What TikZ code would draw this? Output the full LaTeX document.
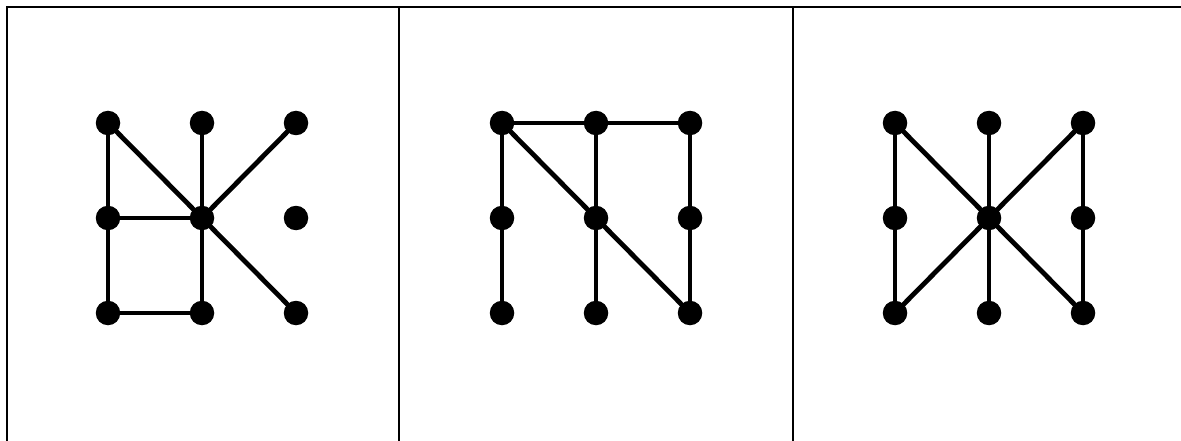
\documentclass[tikz,border=0pt]{standalone}
\begin{document}
\begin{tikzpicture}[x=1pt,y=-1pt,
  dot/.style={circle,fill=black,inner sep=0pt,minimum size=24.5pt},
  edge/.style={line width=4.8pt,line cap=butt},
  frame/.style={line width=2pt}]
\useasboundingbox (0,0) rectangle (1181,441);
% table frame
\draw[frame] (1181,7) -- (7,7) -- (7,441);
\draw[frame] (399,7) -- (399,441);
\draw[frame] (793,7) -- (793,441);
% panel 1
\foreach \c/\x in {L/108,M/202,R/296}{
  \foreach \r/\y in {T/123,M/218,B/313}{
    \coordinate (a\r\c) at (\x,\y);
  }
}
\draw[edge] (aTL) -- (aML) -- (aBL) -- (aBM) -- (aMM) -- (aTM);
\draw[edge] (aML) -- (aMM);
\draw[edge] (aTL) -- (aMM) -- (aBR);
\draw[edge] (aMM) -- (aTR);
\foreach \n in {aTL,aTM,aTR,aML,aMM,aMR,aBL,aBM,aBR}{\node[dot] (d\n) at (\n) {};}
% panel 2
\foreach \c/\x in {L/502,M/596,R/690}{
  \foreach \r/\y in {T/123,M/218,B/313}{
    \coordinate (b\r\c) at (\x,\y);
  }
}
\draw[edge] (bTL) -- (bTM) -- (bTR);
\draw[edge] (bTL) -- (bML) -- (bBL);
\draw[edge] (bTM) -- (bMM) -- (bBM);
\draw[edge] (bTR) -- (bMR) -- (bBR);
\draw[edge] (bTL) -- (bMM) -- (bBR);
\foreach \n in {bTL,bTM,bTR,bML,bMM,bMR,bBL,bBM,bBR}{\node[dot] (d\n) at (\n) {};}
% panel 3
\foreach \c/\x in {L/895,M/989,R/1083}{
  \foreach \r/\y in {T/123,M/218,B/313}{
    \coordinate (c\r\c) at (\x,\y);
  }
}
\draw[edge] (cTL) -- (cML) -- (cBL);
\draw[edge] (cTL) -- (cMM) -- (cBR);
\draw[edge] (cBL) -- (cMM) -- (cTR);
\draw[edge] (cTM) -- (cMM) -- (cBM);
\draw[edge] (cTR) -- (cMR) -- (cBR);
\foreach \n in {cTL,cTM,cTR,cML,cMM,cMR,cBL,cBM,cBR}{\node[dot] (d\n) at (\n) {};}
\end{tikzpicture}
\end{document}
